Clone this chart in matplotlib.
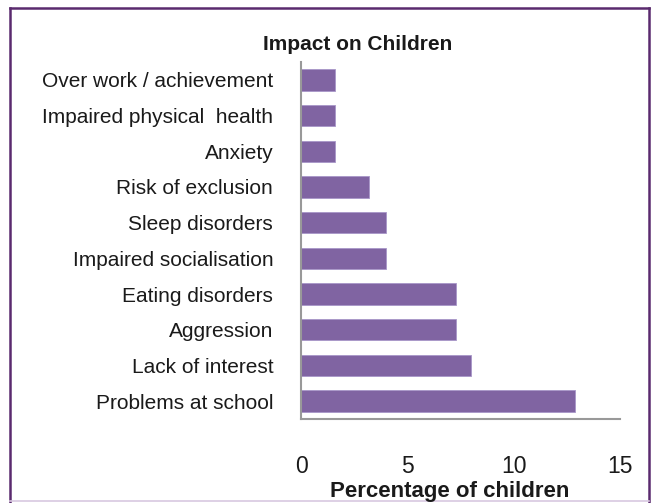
import matplotlib
matplotlib.use("Agg")
import matplotlib.pyplot as plt
from matplotlib.lines import Line2D

categories = ["Problems at school", "Lack of interest", "Aggression", "Eating disorders",
              "Impaired socialisation", "Sleep disorders", "Risk of exclusion", "Anxiety",
              "Impaired physical  health", "Over work / achievement"]
values = [12.9, 8.0, 7.3, 7.3, 4.0, 4.0, 3.2, 1.6, 1.6, 1.6]
xticks = [0, 5, 10, 15]

plt.rcParams['font.family'] = ['Liberation Sans', 'DejaVu Sans']

W, H = 654, 503
fig = plt.figure(figsize=(W/100, H/100), dpi=100)
ax = fig.add_axes([301/W, 1-419/H, (620-301)/W, (419-62)/H])

y = list(range(len(categories)))
ax.barh(y, values, height=0.6, color='#8064A2', edgecolor='#A896C8', linewidth=0.6)
ax.set_xlim(0, 15)
ax.set_ylim(-0.5, 9.5)
ax.set_yticks(y)
ax.set_yticklabels(categories, fontsize=15, color='#1a1a1a')
ax.set_xticks(xticks)
ax.set_xticklabels([str(t) for t in xticks], fontsize=16.5, color='#1a1a1a')
ax.tick_params(axis='y', length=0, pad=20)
ax.tick_params(axis='x', length=0, pad=26)
for s in ['top', 'right']:
    ax.spines[s].set_visible(False)
ax.spines['left'].set_color('#999999')
ax.spines['bottom'].set_color('#999999')
ax.spines['left'].set_linewidth(1.5)
ax.spines['bottom'].set_linewidth(1.5)

fig.text(450/W, 1-492/H, "Percentage of children", ha='center', va='center', fontsize=16,
         fontweight='bold', color='#1a1a1a')
fig.text(358/W, 1-45/H, "Impact on Children", ha='center', va='center', fontsize=15,
         fontweight='bold', color='#1a1a1a')

# outer border
kw = dict(color='#5A2A6E', lw=1.8, transform=fig.transFigure)
fig.add_artist(Line2D([10/W, 10/W], [0, 1-8/H], **kw))
fig.add_artist(Line2D([649/W, 649/W], [0, 1-8/H], **kw))
fig.add_artist(Line2D([10/W, 649/W], [1-8/H, 1-8/H], **kw))
fig.add_artist(Line2D([10/W, 649/W], [1-501/H, 1-501/H], color='#D8C8E0', lw=1.2,
                      transform=fig.transFigure))

fig.savefig("out.png", dpi=100)
